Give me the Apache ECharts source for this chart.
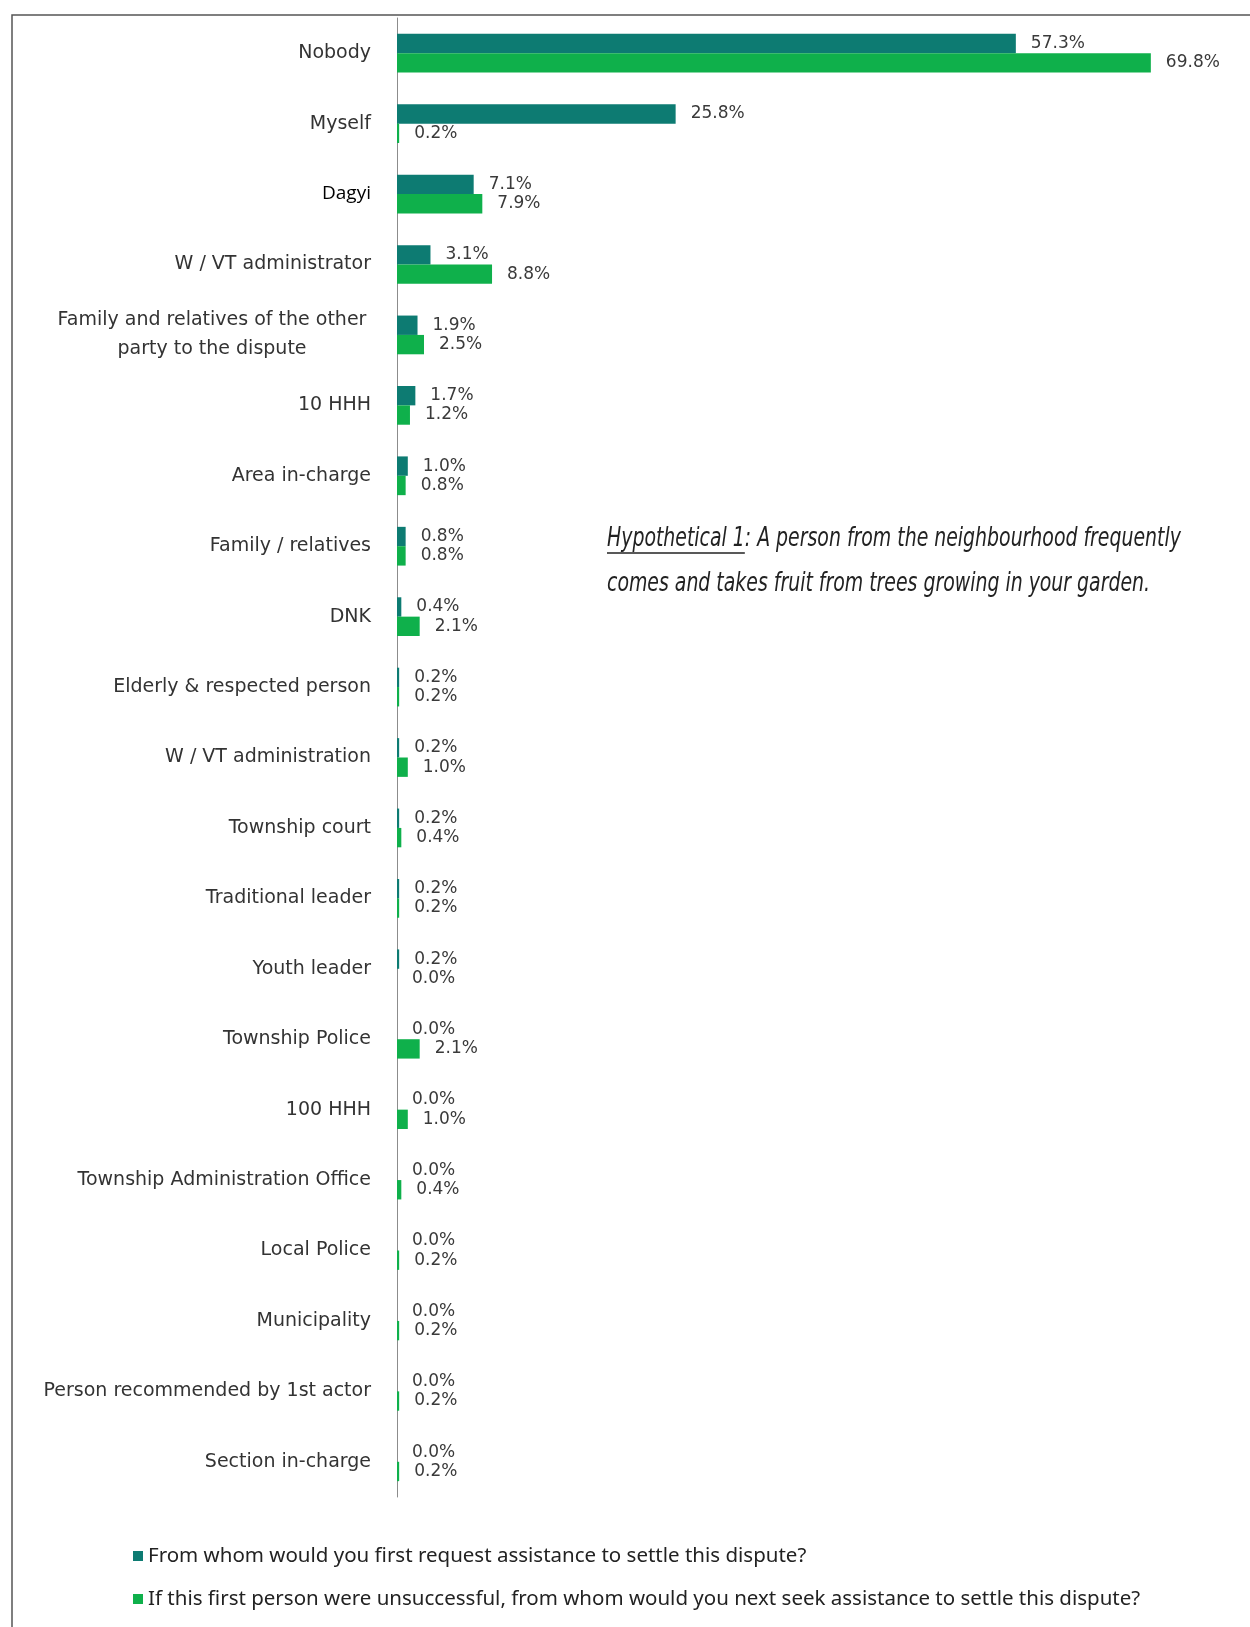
<!DOCTYPE html>
<html>
<head>
<meta charset="utf-8">
<title>Hypothetical 1</title>
<script src="https://cdn.jsdelivr.net/npm/echarts@6/dist/echarts.min.js"></script>
<style>
  html, body { margin: 0; padding: 0; background: #fff; }
  #chart { width: 1250px; height: 1627px; }
</style>
</head>
<body>
<div id="chart"></div>
<script>
// categories, top to bottom
const categories = [
  'Nobody',
  'Myself',
  'Dagyi',
  'W / VT administrator',
  'Family and relatives of the other\nparty to the dispute',
  '10 HHH',
  'Area in-charge',
  'Family / relatives',
  'DNK',
  'Elderly & respected person',
  'W / VT administration',
  'Township court',
  'Traditional leader',
  'Youth leader',
  'Township Police',
  '100 HHH',
  'Township Administration Office',
  'Local Police',
  'Municipality',
  'Person recommended by 1st actor',
  'Section in-charge'
];

// % of respondents
const firstRequest = [57.3, 25.8, 7.1, 3.1, 1.9, 1.7, 1.0, 0.8, 0.4, 0.2, 0.2, 0.2, 0.2, 0.2, 0.0, 0.0, 0.0, 0.0, 0.0, 0.0, 0.0];
const nextRequest = [69.8, 0.2, 7.9, 8.8, 2.5, 1.2, 0.8, 0.8, 2.1, 0.2, 1.0, 0.4, 0.2, 0.0, 2.1, 1.0, 0.4, 0.2, 0.2, 0.2, 0.2];

const seriesNames = [
  'From whom would you first request assistance to settle this dispute?',
  'If this first person were unsuccessful, from whom would you next seek assistance to settle this dispute?'
];

const noteTitle = 'Hypothetical 1';
const noteLines = [
  ': A person from the neighbourhood frequently',
  'comes and takes fruit from trees growing in your garden.'
];

const color = ['#0d7b72', '#0fb04b'];
const noteFont = 'italic 21px "Liberation Sans Narrow", "DejaVu Sans Condensed", sans-serif';

// width of the underlined part of the note
const ctx = document.createElement('canvas').getContext('2d');
ctx.font = noteFont;
const titleWidth = ctx.measureText(noteTitle).width;

const valueLabel = {
  show: true,
  position: 'right',
  distance: 15,
  fontFamily: 'DejaVu Sans',
  fontSize: 17,
  color: '#3a3a3a',
  formatter: p => p.value.toFixed(1) + '%'
};

// the note font is tall and narrow: stretch it a little
const noteText = (text, x, y) => ({
  type: 'text',
  x,
  y,
  scaleY: 1.25,
  style: {
    text,
    font: noteFont,
    fill: '#222',
    verticalAlign: 'middle'
  }
});

const option = {
  color,
  animation: false,
  grid: {
    left: 397,
    top: 18,
    width: 810,
    bottom: 130
  },
  legend: {
    orient: 'vertical',
    left: 128,
    top: 1540,
    icon: 'rect',
    itemWidth: 10,
    itemHeight: 10,
    itemGap: 21,
    textStyle: {
      fontFamily: 'Noto Sans',
      fontSize: 20.5,
      lineHeight: 22,
      color: '#222'
    },
    data: seriesNames
  },
  xAxis: {
    type: 'value',
    min: 0,
    max: 75,
    show: false
  },
  yAxis: {
    type: 'category',
    inverse: true,
    data: categories,
    axisLine: {
      lineStyle: { color: '#8c8c8c', width: 1 }
    },
    axisTick: {
      length: 6,
      lineStyle: { color: '#8c8c8c' }
    },
    axisLabel: {
      margin: 26,
      fontFamily: 'DejaVu Sans',
      fontSize: 19,
      color: '#333',
      formatter: (value) => {
        if (value === 'Dagyi') {
          return '{d|' + value + '}';
        }
        if (value.indexOf('\n') > -1) {
          return value.split('\n').map(s => '{c|' + s + '}').join('\n');
        }
        return value;
      },
      rich: {
        d: {
          fontFamily: 'Open Sans',
          fontSize: 19,
          color: '#000'
        },
        c: {
          fontFamily: 'DejaVu Sans',
          fontSize: 19,
          color: '#333',
          width: 318,
          align: 'center',
          lineHeight: 29
        }
      }
    }
  },
  series: [{
    name: seriesNames[0],
    type: 'bar',
    barGap: 0,
    barCategoryGap: '45%',
    label: valueLabel,
    data: firstRequest
  }, {
    name: seriesNames[1],
    type: 'bar',
    barGap: 0,
    barCategoryGap: '45%',
    label: valueLabel,
    data: nextRequest
  }],
  graphic: [{
    type: 'rect',
    silent: true,
    shape: { x: 12, y: 15, width: 1400, height: 1800 },
    style: { fill: 'none', stroke: '#555', lineWidth: 1.5 }
  },
  noteText(noteTitle, 607, 539),
  noteText(noteLines[0], 607 + titleWidth, 539),
  noteText(noteLines[1], 607, 584),
  {
    type: 'line',
    silent: true,
    shape: { x1: 607, y1: 553, x2: 607 + titleWidth, y2: 553 },
    style: { stroke: '#222', lineWidth: 1.5 }
  }]
};

const myChart = echarts.init(document.getElementById('chart'));
myChart.setOption(option);
</script>
</body>
</html>
